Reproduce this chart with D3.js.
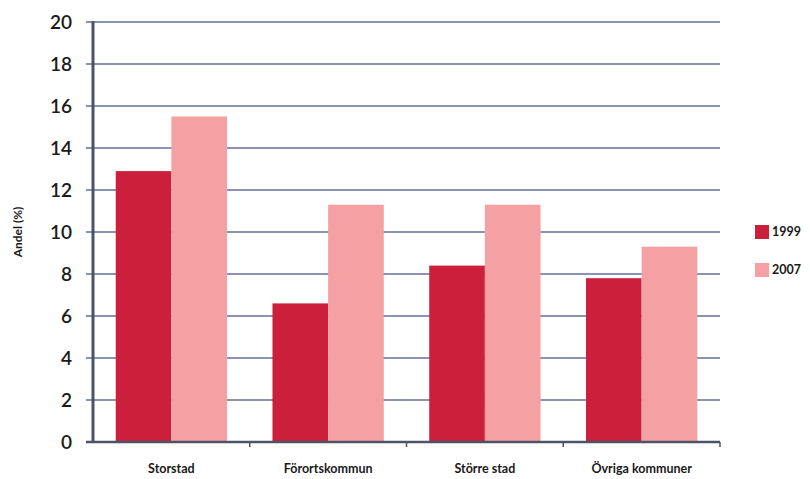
<!DOCTYPE html>
<html>
<head>
<meta charset="utf-8">
<script src="https://cdn.jsdelivr.net/npm/d3@7"></script>
<style>
  body { margin: 0; background: #fff; }
  svg { display: block; }
</style>
</head>
<body>
<svg id="chart" width="810" height="479"></svg>
<script>
// Andel (%) per kommuntyp, 1999 vs 2007
var categories = ['Storstad', 'Förortskommun', 'Större stad', 'Övriga kommuner'];
var years = ['1999', '2007'];
var values1999 = [12.9, 6.6, 8.4, 7.8];
var values2007 = [15.5, 11.3, 11.3, 9.3];
var yTicks = [0, 2, 4, 6, 8, 10, 12, 14, 16, 18, 20];

var COLORS = { '1999': '#cc1f3b', '2007': '#f5a0a2' };
var GRID = '#8a93b2';
var AXIS = '#4c5468';
var FONT = 'Lato, "Open Sans", sans-serif';

var svg = d3.select('#chart');
var plotLeft = 93, plotRight = 720, plotTop = 22, plotBottom = 442;

var x = d3.scaleBand().domain(categories).range([plotLeft, plotRight]).paddingInner(0.29).paddingOuter(0.145);
var xs = d3.scaleBand().domain(years).range([0, x.bandwidth()]);
var y = d3.scaleLinear().domain([0, 20]).range([plotBottom, plotTop]);

// gridlines + y ticks
svg.append('g').selectAll('line')
  .data(yTicks.filter(function (t) { return t > 0; }))
  .join('line')
  .attr('x1', plotLeft - 7).attr('x2', plotRight)
  .attr('y1', function (d) { return y(d); }).attr('y2', function (d) { return y(d); })
  .attr('stroke', GRID).attr('stroke-width', 2);

svg.append('g').selectAll('text')
  .data(yTicks)
  .join('text')
  .attr('x', 72).attr('y', function (d) { return y(d); })
  .attr('dy', '0.35em')
  .attr('text-anchor', 'end')
  .attr('font-family', FONT).attr('font-size', 19).attr('font-weight', 600)
  .attr('fill', '#1a1a1a')
  .text(function (d) { return d; });

// bars
var rows = categories.map(function (c, i) {
  return { cat: c, vals: [{ year: '1999', v: values1999[i] }, { year: '2007', v: values2007[i] }] };
});
svg.append('g').selectAll('g')
  .data(rows)
  .join('g')
  .attr('transform', function (d) { return 'translate(' + x(d.cat) + ',0)'; })
  .selectAll('rect')
  .data(function (d) { return d.vals; })
  .join('rect')
  .attr('x', function (d) { return xs(d.year); })
  .attr('width', xs.bandwidth())
  .attr('y', function (d) { return y(d.v); })
  .attr('height', function (d) { return y(0) - y(d.v); })
  .attr('fill', function (d) { return COLORS[d.year]; });

// axes lines
svg.append('line').attr('x1', plotLeft).attr('x2', plotLeft).attr('y1', plotTop - 1).attr('y2', plotBottom)
  .attr('stroke', AXIS).attr('stroke-width', 3);
svg.append('line').attr('x1', plotLeft - 7).attr('x2', plotRight).attr('y1', plotBottom).attr('y2', plotBottom)
  .attr('stroke', AXIS).attr('stroke-width', 2.5);
var bounds = categories.map(function (c) { return x(c) + x.bandwidth() + x.step() * x.paddingInner() / 2; });
svg.append('g').selectAll('line')
  .data(bounds)
  .join('line')
  .attr('x1', function (d) { return d; }).attr('x2', function (d) { return d; })
  .attr('y1', plotBottom).attr('y2', plotBottom + 5)
  .attr('stroke', AXIS).attr('stroke-width', 1.5);

// category labels
svg.append('g').selectAll('text')
  .data(categories)
  .join('text')
  .attr('x', function (d) { return x(d) + x.bandwidth() / 2; })
  .attr('y', 473)
  .attr('text-anchor', 'middle')
  .attr('font-family', FONT).attr('font-size', 12.5).attr('font-weight', 700)
  .attr('fill', '#1a1a1a')
  .text(function (d) { return d; });

// y title
svg.append('text')
  .attr('transform', 'translate(22,232) rotate(-90)')
  .attr('text-anchor', 'middle')
  .attr('font-family', FONT).attr('font-size', 12).attr('font-weight', 700)
  .attr('fill', '#1a1a1a')
  .text('Andel (%)');

// legend
var leg = svg.append('g').selectAll('g')
  .data(years)
  .join('g')
  .attr('transform', function (d, i) { return 'translate(755,' + (225 + i * 38) + ')'; });
leg.append('rect').attr('width', 14).attr('height', 14)
  .attr('fill', function (d) { return COLORS[d]; });
leg.append('text').attr('x', 17).attr('y', 7).attr('dy', '0.35em')
  .attr('font-family', FONT).attr('font-size', 12.5).attr('font-weight', 700)
  .attr('fill', '#1a1a1a')
  .text(function (d) { return d; });
</script>
</body>
</html>
